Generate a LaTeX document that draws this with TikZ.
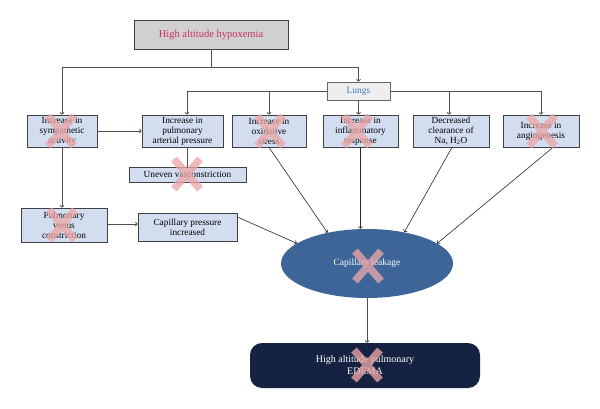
\documentclass[tikz,border=0pt]{standalone}
\usepackage{fontspec}
\setmainfont{Liberation Serif}
\usetikzlibrary{arrows.meta,calc,shapes.geometric}
\definecolor{boxfill}{HTML}{D2DEEF}
\definecolor{boxline}{HTML}{404040}
\definecolor{topfill}{HTML}{D0D0D0}
\definecolor{toptext}{HTML}{C8305F}
\definecolor{lungfill}{HTML}{EEEEEE}
\definecolor{lungtext}{HTML}{4A78B8}
\definecolor{leakfill}{HTML}{3D6597}
\definecolor{edemafill}{HTML}{162241}
\definecolor{xpink}{HTML}{EBA6A8}
\definecolor{conn}{HTML}{505050}
\tikzset{
  bx/.style={draw=boxline, fill=boxfill, line width=0.8pt, inner sep=0pt, align=center,
    font=\fontsize{9.3}{10}\selectfont, text=black},
  cn/.style={draw=conn, line width=0.8pt, -{To[length=2.5pt,width=4.5pt]}},
  cnl/.style={draw=conn, line width=0.8pt},
  cno/.style={draw=black!85, line width=0.6pt, -{To[length=2.5pt,width=4.5pt]}},
  xm/.style={draw=xpink, opacity=0.78, line width=7.5pt},
}
\begin{document}
\begin{tikzpicture}[x=1pt,y=-1pt]
\useasboundingbox (0,0) rectangle (600,409);
% nodes
\node[draw=boxline, fill=topfill, line width=0.9pt, minimum width=154pt, minimum height=29pt,
  text=toptext, font=\fontsize{10.5}{12}\selectfont] (top) at (211,34.5) {High altitude hypoxemia};
\node[draw=boxline!80, fill=lungfill, line width=0.8pt, minimum width=63pt, minimum height=18pt,
  text=lungtext, font=\fontsize{9.5}{11}\selectfont] (lungs) at (358.5,91) {Lungs};
\node[bx, minimum width=70pt, minimum height=32pt] (symp) at (62,131) {Increase in\\sympathetic\\activity};
\node[bx, minimum width=81pt, minimum height=32pt] (pap) at (182.5,131) {Increase in\\pulmonary\\arterial pressure};
\node[bx, minimum width=74pt, minimum height=32pt] (ox) at (269,131) {Increase in\\oxidative\\stress};
\node[bx, minimum width=75pt, minimum height=32pt] (infl) at (360.5,131) {Increase in\\inflammatory\\response};
\node[bx, minimum width=76pt, minimum height=32pt] (dec) at (451,131) {Decreased\\clearance of\\Na, H\textsubscript{2}O};
\node[bx, minimum width=76pt, minimum height=32pt] (ang) at (541,131) {Increase in\\angiogenesis};
\node[bx, minimum width=117pt, minimum height=15pt] (uneven) at (187.5,174.5) {Uneven vasconstriction};
\node[bx, minimum width=86pt, minimum height=34pt] (venus) at (64,225) {Pulmonary\\venus\\constriction};
\node[bx, minimum width=99pt, minimum height=28pt] (capp) at (187.5,227) {Capillary pressure\\increased};
\node[ellipse, fill=leakfill, minimum width=172pt, minimum height=69pt, inner sep=0pt,
  text=white, font=\fontsize{9.5}{11}\selectfont] (leak) at (367,263.5) {Capillary leakage};
\node[fill=edemafill, rounded corners=12pt, minimum width=230pt, minimum height=45pt, inner sep=0pt,
  align=center, text=white, font=\fontsize{10}{12}\selectfont] (edema) at (365,365.5) {High altitude pulmonary\\EDEMA};
% connectors
\coordinate (j1) at (211,67);
\draw[cnl] (top.south) -- (j1);
\draw[cn] (j1) -| (symp.north);
\draw[cn] (j1) -| (lungs.north);
\draw[cn] (lungs.west) -| ($(pap.north)+(4.5,0)$);
\draw[cn] (lungs.west -| ox.north) -- (ox.north);
\draw[cn] (lungs.south) -- (lungs.south |- infl.north);
\draw[cn] (lungs.east) -| (ang.north);
\draw[cn] ($(lungs.east -| dec.north)+(-2,0)$) -- ($(dec.north)+(-2,0)$);
\draw[cn] (symp.east) -- (pap.west);
\draw[cnl] (uneven.north |- pap.south) -- (uneven.north);
\draw[cn] (symp.south) -- (symp.south |- venus.north);
\draw[cn] ($(venus.east)+(0,-1)$) -- ($(venus.east -| capp.west)+(0,-1)$);
\draw[cno] ($(capp.east)+(0,-10)$) -- (leak.164);
\draw[cno] (ox.south) -- (leak.142);
\draw[cno] (infl.south) -- (infl.south |- leak.north);
\draw[cno] ($(dec.south)+(1,0)$) -- (leak.40);
\draw[cno] ($(ang.south)+(12,0)$) -- (leak.16);
\draw[cn] (leak.south) -- (leak.south |- edema.north);
% pink crosses
\foreach \p in {(61,131),(270,131),(357,131),(542,131),(187,174),(62,225),(368,266),(367,365)}{
  \draw[xm] \p ++(-13,-15) -- ++(26,30) \p ++(13,-15) -- ++(-26,30);
}
\end{tikzpicture}
\end{document}
